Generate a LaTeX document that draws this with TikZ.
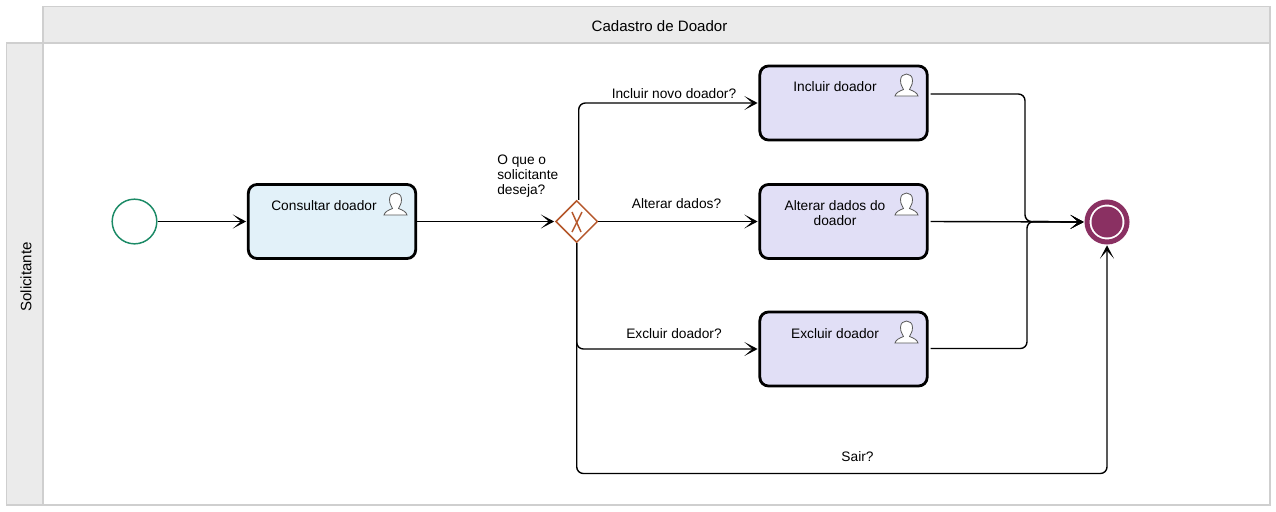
\documentclass[tikz,border=0pt]{standalone}
\usepackage{fontspec}
\setmainfont{Liberation Sans}
\usetikzlibrary{arrows.meta,shapes.geometric}

\definecolor{lanefill}{HTML}{EBEBEB}
\definecolor{laneline}{HTML}{CFCFCF}
\definecolor{startcol}{HTML}{1B8A66}
\definecolor{gatecol}{HTML}{B5572B}
\definecolor{endcol}{HTML}{8A3062}
\definecolor{bluetask}{HTML}{E2F1F9}
\definecolor{violettask}{HTML}{E1DFF6}

\tikzset{
  lane/.style={draw=laneline, fill=lanefill, line width=1.1pt},
  task/.style={draw=black, line width=2.1pt, rounded corners=6.5pt, minimum width=125.5pt, minimum height=55.5pt, inner sep=0pt},
  flow/.style={-{Stealth[length=10pt,width=10.5pt,inset=6pt]}, line width=1.05pt, rounded corners=5pt, shorten >=0.6pt},
  txt/.style={font=\fontsize{10.3}{11.25}\selectfont, inner sep=0pt, align=center},
  bigtxt/.style={font=\fontsize{11.3}{12}\selectfont, inner sep=0pt},
  usericon/.pic={
    \draw[draw=black!65, fill=white, line width=0.6pt] (-11.5,0) -- (11.5,0)
      .. controls (11,-3) and (7,-5) .. (3,-6.5)
      .. controls (3.5,-9) and (6,-10) .. (6,-15.5)
      .. controls (6,-20) and (3,-22) .. (0,-22)
      .. controls (-3,-22) and (-6,-20) .. (-6,-15.5)
      .. controls (-6,-10) and (-3.5,-9) .. (-3,-6.5)
      .. controls (-7,-5) and (-11,-3) .. (-11.5,0) -- cycle;
  }
}

\begin{document}
\begin{tikzpicture}[x=0.75pt,y=-0.75pt]
  \useasboundingbox (0,0) rectangle (1276,511);

  % lanes
  \draw[lane] (43,6.5) rectangle (1270,43);
  \draw[lane] (6.5,43) rectangle (43,505);
  \draw[draw=laneline, fill=white, line width=1.1pt] (43,43) rectangle (1270,505);
  \node (title) at (659.5,26) [bigtxt] {Cadastro de Doador};
  \node (lane name) at (26,277) [bigtxt, rotate=90] {Solicitante};

  % events and gateway
  \node (start) at (134.5,221.5) [circle, draw=startcol, fill=white, line width=1.1pt, minimum size=33.5pt, inner sep=0pt] {};
  \node (end) at (1107,222) [circle, draw=endcol, fill=white, line width=3.75pt, minimum size=30pt, inner sep=0pt] {};
  \fill[endcol] (end.center) circle[radius=15.5];
  \node (gate) at (576.7,221.5) [diamond, draw=gatecol, fill=white, line width=1.1pt, minimum width=31.5pt, minimum height=31.5pt, inner sep=0pt] {};
  \draw[gatecol, line width=1.1pt] (572,212) -- (581,232);
  \draw[gatecol, line width=1.1pt] (582,212) -- (572,232);

  % tasks
  \node (consultar) at (332,221.5) [task, fill=bluetask] {};
  \node (incluir) at (843.5,103) [task, fill=violettask] {};
  \node (alterar) at (843.5,221.5) [task, fill=violettask] {};
  \node (excluir) at (843.5,349) [task, fill=violettask] {};

  \pic at (395.5,215) {usericon};
  \pic at (906.5,96) {usericon};
  \pic at (906.5,215) {usericon};
  \pic at (906.5,343) {usericon};

  \node (consultar text) at (324,205.7) [txt] {Consultar doador};
  \node (incluir text) at (835,86.7) [txt] {Incluir doador};
  \node (alterar text) at (835,213) [txt] {Alterar dados do\\doador};
  \node (excluir text) at (835,333.7) [txt] {Excluir doador};

  % free ends on the right side
  \coordinate (incluir out) at (930.5,94);
  \coordinate (alterar out) at (930.5,221.5);
  \coordinate (excluir out) at (930.5,348.5);
  \coordinate (join up) at (1025,221.5);
  \coordinate (join down) at (1027,221.5);
  \coordinate (exit low) at (576.7,473.5);

  % connectors
  \draw[flow] (start) -- (consultar);
  \draw[flow] (consultar) -- (gate);
  \draw[flow] ([xshift=1.5pt]gate.north) |- (incluir.west);
  \draw[flow] (gate) -- (alterar);
  \draw[flow] (gate.south) |- (excluir.west);
  \draw[flow] (gate.south) -- (exit low) -| (end.south);
  \draw[flow] (incluir out) -| (join up) -- (end.west);
  \draw[flow] (alterar out) -- (end.west);
  \draw[flow] (excluir out) -| (join down) -- (end.west);

  % flow labels
  \node (label incluir) at (674,93.7) [txt] {Incluir novo doador?};
  \node (label alterar) at (676.5,203.7) [txt] {Alterar dados?};
  \node (label excluir) at (674,333.7) [txt] {Excluir doador?};
  \node (label sair) at (857.5,456.5) [txt] {Sair?};
  \node (label gate) at (497,176) [txt, anchor=west, align=left] {O que o\\solicitante\\deseja?};
\end{tikzpicture}
\end{document}
